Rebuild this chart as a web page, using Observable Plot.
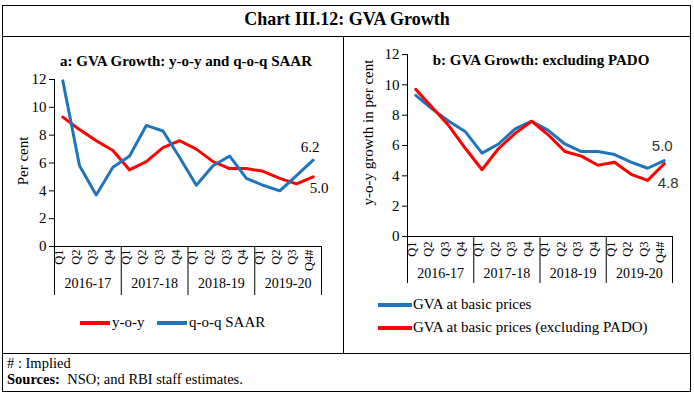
<!DOCTYPE html>
<html>
<head>
<meta charset="utf-8">
<script src="https://cdn.jsdelivr.net/npm/d3@7"></script>
<script src="https://cdn.jsdelivr.net/npm/@observablehq/plot@0.6"></script>
<style>
  html, body { margin: 0; padding: 0; background: #fff; }
  body { width: 694px; height: 394px; position: relative; overflow: hidden; font-family: "Liberation Serif", serif; color: #000; }
  .abs { position: absolute; }
  .hline { position: absolute; height: 1px; background: #000; }
  .vline { position: absolute; width: 1px; background: #000; }
  .sw { position: absolute; height: 4px; }
  .lt { position: absolute; font-size: 15px; white-space: nowrap; line-height: 16px; }
  .ft { position: absolute; font-size: 14.5px; white-space: nowrap; line-height: 16px; }
  svg { position: absolute; overflow: visible; }
</style>
</head>
<body>
<div id="root"></div>
<script>
// ---- data ----
const quarters = ["Q1","Q2","Q3","Q4","Q1","Q2","Q3","Q4","Q1","Q2","Q3","Q4","Q1","Q2","Q3","Q4#"];
const years = ["2016-17","2017-18","2018-19","2019-20"];
const yoy = [9.3, 8.4, 7.6, 6.9, 5.5, 6.1, 7.1, 7.6, 7.0, 6.1, 5.6, 5.6, 5.4, 4.9, 4.5, 5.0];
const qoqSaar = [11.9, 5.8, 3.7, 5.7, 6.5, 8.7, 8.3, 6.4, 4.4, 5.8, 6.5, 4.9, 4.4, 4.0, 5.1, 6.2];
const gvaBasic = [9.3, 8.4, 7.6, 6.9, 5.5, 6.1, 7.1, 7.6, 7.0, 6.1, 5.6, 5.6, 5.4, 4.9, 4.5, 5.0];
const gvaExPado = [9.7, 8.5, 7.3, 5.8, 4.4, 5.8, 6.8, 7.6, 6.7, 5.6, 5.3, 4.7, 4.9, 4.1, 3.7, 4.8];
const yTicks = [0, 2, 4, 6, 8, 10, 12];

const RED = "#ff0000";
const BLUE = "#1f74bb";

const root = document.getElementById("root");
function el(cls, style, html) {
  const d = document.createElement("div");
  d.className = cls;
  Object.assign(d.style, style);
  if (html != null) d.innerHTML = html;
  root.appendChild(d);
  return d;
}

function panel({left, top, width, height, mL, mR, mT, mB, series, labels, yLabel, yLabelDx, yLabelDy, qDy, sepLen, yearDy}) {
  const plotH = height - mT - mB;
  const rows = s => s.values.map((v, i) => ({i, v}));
  const marks = [
    Plot.ruleY([0], {stroke: "#000", strokeWidth: 1}),
    Plot.ruleX([-0.5], {stroke: "#000", strokeWidth: 1}),
    Plot.axisY({ticks: yTicks, tickSize: 5, tickPadding: 3, label: null, fontSize: 15, tickFormat: d3.format("d")}),
    Plot.ruleX(years.map((d, k) => k * 4 - 0.5).concat([15.5]), {x: d => d, insetTop: plotH, insetBottom: -sepLen, stroke: "#000"}),
    Plot.text(quarters, {x: (d, i) => i, text: d => d, frameAnchor: "bottom", rotate: -90, textAnchor: "end", dy: qDy, fontSize: 12.5}),
    Plot.text(years, {x: (d, k) => k * 4 + 1.5, text: d => d, frameAnchor: "bottom", dy: yearDy, fontSize: 14}),
    Plot.text([yLabel], {text: d => d, frameAnchor: "left", textAnchor: "middle", rotate: -90, dx: yLabelDx, dy: yLabelDy, fontSize: 15})
  ];
  for (const s of series) {
    marks.push(Plot.line(rows(s), {x: "i", y: "v", stroke: s.color, strokeWidth: 3, strokeLinejoin: "round"}));
  }
  for (const l of labels) {
    const vals = l.series.values;
    const last = vals.length - 1;
    marks.push(Plot.text([{i: last, v: vals[last]}], {x: "i", y: "v", text: d => d.v.toFixed(1), dx: l.dx, dy: l.dy, fontSize: 15, fontFamily: l.font || "Liberation Serif", fill: l.fill || "#000"}));
  }
  const svg = Plot.plot({
    width, height,
    marginLeft: mL, marginRight: mR, marginTop: mT, marginBottom: mB,
    x: {domain: [-0.5, 15.5], axis: null},
    y: {domain: [0, 12], axis: null},
    style: {fontFamily: "Liberation Serif", fontSize: "13px", color: "#000", background: "transparent", overflow: "visible"},
    marks
  });
  svg.style.left = left + "px";
  svg.style.top = top + "px";
  root.appendChild(svg);
}

// ---- frame ----
el("hline", {left: "2px", top: "5px", width: "689px"});
el("hline", {left: "2px", top: "36px", width: "689px"});
el("hline", {left: "2px", top: "353px", width: "689px"});
el("hline", {left: "2px", top: "391px", width: "689px"});
el("vline", {left: "2px", top: "5px", height: "387px"});
el("vline", {left: "690px", top: "5px", height: "387px"});
el("vline", {left: "343px", top: "36px", height: "317px"});

el("abs", {left: "0px", top: "9px", width: "694px", textAlign: "center", fontSize: "18px", fontWeight: "bold", lineHeight: "20px"}, "Chart III.12: GVA Growth");

// panel titles
el("abs", {left: "26px", top: "53px", width: "320px", textAlign: "center", fontSize: "15px", fontWeight: "bold", lineHeight: "17px"}, "a: GVA Growth: y-o-y and q-o-q SAAR");
el("abs", {left: "381px", top: "52px", width: "320px", textAlign: "center", fontSize: "15px", fontWeight: "bold", lineHeight: "17px"}, "b: GVA Growth: excluding PADO");

const sYoy = {values: yoy, color: RED};
const sQoq = {values: qoqSaar, color: BLUE};
const sBasic = {values: gvaBasic, color: BLUE};
const sEx = {values: gvaExPado, color: RED};

panel({left: 0, top: 36, width: 343, height: 264, mL: 54, mR: 22, mT: 43, mB: 54,
  series: [sYoy, sQoq],
  labels: [{series: sQoq, dx: -3, dy: -13}, {series: sYoy, dx: 6, dy: 11}],
  yLabel: "Per cent", yLabelDx: -31, yLabelDy: -2, qDy: 3, sepLen: 49, yearDy: 41});

panel({left: 344, top: 36, width: 346, height: 264, mL: 63, mR: 18, mT: 18, mB: 64,
  series: [sBasic, sEx],
  labels: [{series: sBasic, dx: -2, dy: -14, font: "Liberation Sans", fill: "#333"}, {series: sEx, dx: 4, dy: 19, font: "Liberation Sans", fill: "#333"}],
  yLabel: "y-o-y growth in per cent", yLabelDx: -39, yLabelDy: -13, qDy: 5, sepLen: 47, yearDy: 41});

// legends
el("sw", {left: "80px", top: "321px", width: "30px", background: RED});
el("lt", {left: "112px", top: "314px"}, "y-o-y");
el("sw", {left: "157px", top: "321px", width: "30px", background: BLUE});
el("lt", {left: "189px", top: "314px"}, "q-o-q SAAR");

el("sw", {left: "378px", top: "303px", width: "34px", background: BLUE});
el("lt", {left: "413px", top: "296px"}, "GVA at basic prices");
el("sw", {left: "378px", top: "326px", width: "34px", background: RED});
el("lt", {left: "413px", top: "319px"}, "GVA at basic prices (excluding PADO)");

// footer
el("ft", {left: "7px", top: "355px"}, "# : Implied");
el("ft", {left: "7px", top: "371px"}, "<b>Sources:</b>&nbsp; NSO; and RBI staff estimates.");
</script>
</body>
</html>
